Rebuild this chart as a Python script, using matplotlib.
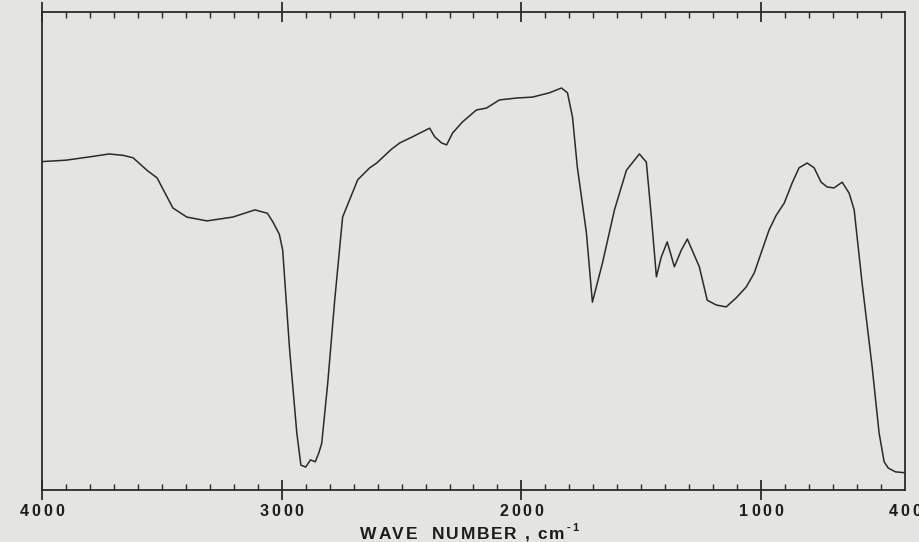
import matplotlib
matplotlib.use("Agg")
import matplotlib.pyplot as plt
from matplotlib.ticker import FixedLocator
from matplotlib.font_manager import FontProperties

# IR spectrum (wavenumber cm^-1, relative transmittance %)
wavenumber = [4000, 3900, 3800, 3720, 3660, 3620, 3560, 3520, 3454, 3396, 3312, 3204,
              3112, 3060, 3037, 3010, 2996, 2967, 2937, 2920, 2900, 2880, 2860, 2845,
              2833, 2808, 2779, 2746, 2683, 2633, 2604, 2542, 2508, 2454, 2383, 2362,
              2333, 2312, 2287, 2246, 2188, 2146, 2092, 2021, 1954, 1883, 1833, 1808,
              1787, 1767, 1729, 1704, 1662, 1612, 1562, 1508, 1479, 1458, 1437, 1417,
              1392, 1362, 1333, 1308, 1258, 1225, 1187, 1146, 1104, 1062, 1029, 996,
              967, 937, 904, 871, 842, 808, 779, 750, 725, 696, 662, 633, 612, 579,
              537, 508, 487, 470, 440, 400]
transmittance = [68.7, 69.0, 69.7, 70.3, 70.0, 69.5, 66.8, 65.3, 59.0, 57.1, 56.3, 57.1,
                 58.6, 57.9, 56.1, 53.5, 50.2, 29.3, 11.9, 5.2, 4.8, 6.3, 5.9, 7.8,
                 9.8, 22.4, 39.7, 57.1, 64.9, 67.4, 68.4, 71.3, 72.6, 73.9, 75.7, 73.9,
                 72.6, 72.2, 74.7, 77.0, 79.5, 79.9, 81.6, 82.0, 82.2, 83.1, 84.1, 83.1,
                 78.0, 67.6, 53.8, 39.3, 47.5, 58.6, 66.9, 70.3, 68.6, 57.1, 44.6, 48.7,
                 51.9, 46.7, 50.2, 52.5, 46.7, 39.7, 38.7, 38.3, 40.2, 42.5, 45.4, 50.2,
                 54.4, 57.5, 60.0, 64.2, 67.4, 68.4, 67.4, 64.4, 63.4, 63.2, 64.4, 62.1,
                 58.6, 43.3, 25.7, 11.9, 5.9, 4.6, 3.8, 3.6]

major_ticks = [4000, 3000, 2000, 1000]
tick_labels = ["4000", "3000", "2000", "1000", "400"]
label_positions = [4000, 3000, 2000, 1000, 400]
minor_ticks = [w for w in range(500, 4000, 100) if w not in major_ticks]
x_title = "WAVE  NUMBER , cm"
x_title_sup = "-1"

W, H = 920, 542
bg = "#e4e4e2"
ink = "#2a2a2a"
txt = "#1c1c1c"

fig = plt.figure(figsize=(W / 100, H / 100), dpi=100, facecolor=bg)
ax = fig.add_axes([42 / W, 52 / H, (905 - 42) / W, (490 - 12) / H])
ax.set_facecolor(bg)

ax.plot(wavenumber, transmittance, color=ink, lw=1.1, solid_joinstyle="round")

ax.set_xlim(4000, 400)
ax.set_ylim(0, 100)

for s in ax.spines.values():
    s.set_color(ink)
    s.set_linewidth(1.3)

ax.xaxis.set_major_locator(FixedLocator(major_ticks))
ax.xaxis.set_minor_locator(FixedLocator(minor_ticks))
ax.set_xticklabels([])
ax.tick_params(axis="x", which="major", direction="inout", length=14, width=1.3,
               color=ink, top=True, bottom=True)
ax.tick_params(axis="x", which="minor", direction="in", length=4, width=1.0,
               color=ink, top=True, bottom=True)
ax.set_yticks([])

renderer = fig.canvas.get_renderer()


def spaced_text(xc, baseline, segments, tracking):
    """Draw letter-spaced text centred at xc (pixels), baseline in pixels from top."""
    items = []
    for s, size, weight, dy in segments:
        fp = FontProperties(family="Liberation Sans", size=size, weight=weight)
        for ch in s:
            w, h, d = renderer.get_text_width_height_descent(ch, fp, ismath=False)
            items.append((ch, fp, w, dy))
    total = sum(it[2] for it in items) + tracking * (len(items) - 1)
    x = xc - total / 2
    for ch, fp, w, dy in items:
        if ch.strip():
            fig.text(x / W, 1 - (baseline - dy) / H, ch, fontproperties=fp,
                     ha="left", va="baseline", color=txt)
        x += w + tracking


# tick labels, centred under their ticks
for pos, lab in zip(label_positions, tick_labels):
    xp = ax.transData.transform((pos, 0))[0]
    spaced_text(xp, 515.5, [(lab, 11.5, "bold", 0)], 2.8)

# axis title
spaced_text(469, 539, [(x_title, 12.5, "bold", 0), (x_title_sup, 8, "bold", 8)], 1.7)

fig.savefig("out.png", dpi=100, facecolor=bg)
